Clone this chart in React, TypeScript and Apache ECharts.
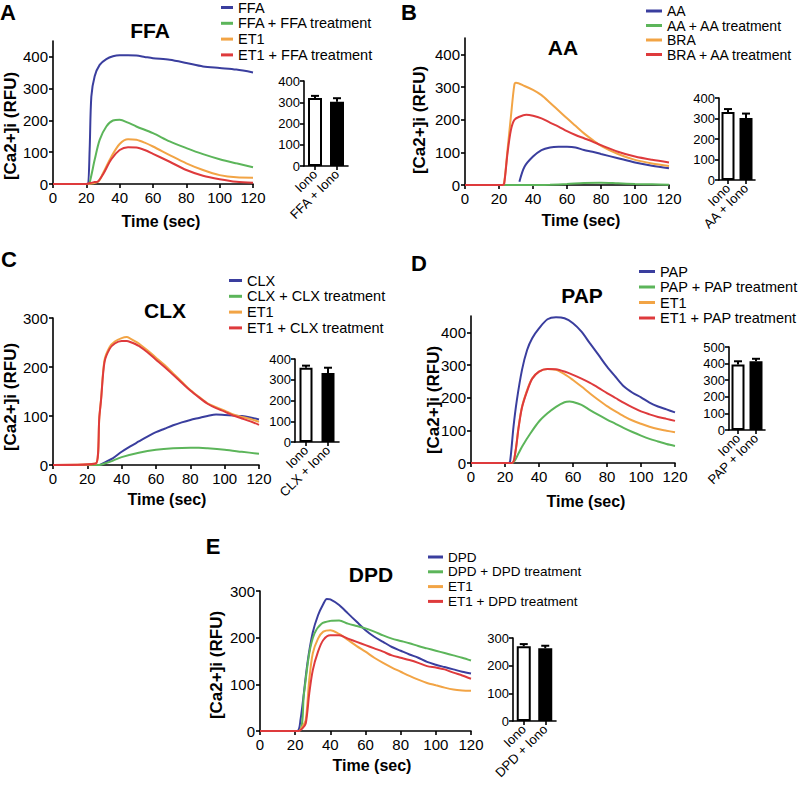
import React, { useEffect, useRef } from "react";
import * as echarts from "echarts";

const BLUE = "#3a3e9e";
const GREEN = "#5cb55a";
const ORANGE = "#f2a445";
const RED = "#de3a3c";
const FONT = '"Liberation Sans", Arial, sans-serif';

// ---------- Panel A (FFA) ----------
const aFfaT = [0, 20, 21, 22, 23, 25, 28, 32, 36, 40, 45, 50, 55, 60, 70, 80, 90, 100, 110, 120];
const aFfaV = [0, 0, 0, 110, 275, 339, 375, 393, 402, 405, 405, 404, 400, 396, 391, 381, 370, 365, 360, 351];
const aFfaTrT = [0, 21, 22, 25, 28, 32, 36, 40, 45, 50, 60, 70, 80, 90, 100, 110, 120];
const aFfaTrV = [0, 0, 5, 76, 139, 181, 200, 202, 193, 181, 160, 134, 113, 94, 78, 65, 53];
const aEt1T = [0, 20, 27, 30, 35, 40, 45, 50, 55, 60, 70, 80, 90, 100, 110, 120];
const aEt1V = [0, 0, 7, 34, 86, 126, 141, 139, 130, 118, 91, 65, 44, 28, 21, 20];
const aEt1TrT = [0, 20, 22, 25, 27, 30, 35, 40, 45, 50, 55, 60, 70, 80, 90, 100, 110, 120];
const aEt1TrV = [0, 0, 3, 6, 8, 30, 78, 107, 116, 115, 107, 95, 70, 44, 26, 15, 7, 4];
const aBarCats = ["Iono", "FFA + Iono"];
const aBarVals = [320, 302];
const aBarErr = [10, 17];

// ---------- Panel B (AA) ----------
const bAaT = [32, 35, 40, 45, 50, 55, 60, 65, 70, 75, 80, 90, 100, 110, 120];
const bAaV = [10, 56, 87, 107, 115, 117, 117, 115, 107, 102, 95, 82, 69, 59, 51];
const bAaTrT = [0, 20, 40, 50, 60, 70, 80, 90, 100, 110, 120];
const bAaTrV = [0, 0, 0, 1, 3, 6, 7, 5, 3, 2, 1];
const bBraT = [0, 22, 23, 25, 27, 29, 30, 35, 40, 45, 50, 55, 60, 65, 70, 75, 80, 90, 100, 110, 120];
const bBraV = [0, 0, 5, 107, 209, 306, 313, 303, 291, 275, 252, 228, 204, 181, 158, 138, 120, 95, 77, 66, 58];
const bBraTrT = [0, 22, 23, 25, 27, 29, 32, 36, 40, 45, 50, 55, 60, 65, 70, 75, 80, 90, 100, 110, 120];
const bBraTrV = [0, 0, 3, 97, 168, 199, 209, 215, 212, 204, 191, 179, 165, 153, 143, 133, 122, 102, 87, 77, 69];
const bBarCats = ["Iono", "AA + Iono"];
const bBarVals = [332, 302];
const bBarErr = [14, 22];

// ---------- Panel C (CLX) ----------
const cClxT = [0, 27, 30, 35, 40, 45, 50, 55, 60, 65, 70, 75, 80, 85, 90, 95, 100, 105, 110, 115, 120];
const cClxV = [0, 0, 5, 14, 27, 38, 48, 58, 67, 74, 81, 87, 92, 96, 100, 103, 102, 101, 100, 97, 93];
const cClxTrT = [0, 27, 30, 35, 40, 50, 60, 70, 80, 85, 90, 100, 110, 120];
const cClxTrV = [0, 0, 3, 9, 16, 25, 31, 34, 35, 35, 34, 31, 27, 23];
const cEt1T = [0, 25, 27, 28, 30, 33, 36, 40, 43, 45, 50, 55, 60, 65, 70, 75, 80, 85, 90, 95, 100, 105, 110, 115, 120];
const cEt1V = [0, 3, 98, 135, 214, 241, 252, 259, 261, 258, 248, 234, 219, 204, 187, 170, 153, 139, 126, 118, 111, 103, 98, 94, 88];
const cEt1TrV = [0, 3, 98, 133, 210, 237, 248, 253, 253, 251, 243, 230, 215, 200, 184, 168, 152, 138, 125, 116, 109, 101, 95, 89, 82];
const cBarCats = ["Iono", "CLX + Iono"];
const cBarVals = [358, 333];
const cBarErr = [10, 25];

// ---------- Panel D (PAP) ----------
const dPapT = [0, 22, 23, 25, 27, 30, 33, 36, 40, 45, 50, 55, 60, 65, 70, 75, 80, 85, 90, 95, 100, 105, 110, 115, 120];
const dPapV = [0, 0, 5, 111, 193, 285, 346, 382, 412, 440, 446, 443, 428, 402, 366, 331, 295, 264, 234, 215, 201, 185, 173, 164, 155];
const dPapTrT = [0, 24, 28, 30, 35, 40, 45, 50, 55, 58, 60, 65, 70, 75, 80, 85, 90, 95, 100, 105, 110, 115, 120];
const dPapTrV = [0, 0, 30, 50, 91, 127, 152, 172, 186, 188, 187, 178, 162, 147, 133, 120, 107, 95, 84, 74, 66, 58, 52];
const dEt1T = [0, 24, 26, 28, 30, 33, 36, 40, 45, 50, 55, 60, 65, 70, 75, 80, 85, 90, 95, 100, 105, 110, 115, 120];
const dEt1V = [0, 0, 30, 111, 172, 223, 259, 280, 288, 285, 272, 254, 234, 213, 193, 174, 158, 143, 130, 120, 111, 104, 99, 94];
const dEt1TrV = [0, 0, 30, 108, 170, 220, 258, 280, 288, 287, 280, 270, 258, 245, 230, 214, 199, 184, 170, 158, 149, 141, 135, 129];
const dBarCats = ["Iono", "PAP + Iono"];
const dBarVals = [394, 414];
const dBarErr = [20, 15];

// ---------- Panel E (DPD) ----------
const eDpdT = [0, 21, 23, 27, 30, 33, 36, 38, 40, 45, 50, 55, 60, 65, 70, 75, 80, 85, 90, 95, 100, 105, 110, 115, 120];
const eDpdV = [0, 0, 23, 146, 211, 248, 272, 283, 282, 270, 252, 234, 216, 202, 191, 180, 172, 164, 157, 148, 142, 137, 132, 127, 123];
const eDpdTrT = [0, 22, 25, 28, 31, 35, 40, 45, 50, 55, 60, 65, 70, 75, 80, 85, 90, 95, 100, 105, 110, 115, 120];
const eDpdTrV = [0, 0, 80, 166, 209, 230, 236, 237, 230, 225, 220, 213, 205, 198, 193, 188, 182, 177, 172, 167, 162, 157, 151];
const eEt1T = [0, 22, 24, 26, 28, 30, 33, 36, 40, 45, 50, 55, 60, 65, 70, 75, 80, 85, 90, 95, 100, 105, 110, 115, 120];
const eEt1V = [0, 0, 9, 23, 109, 166, 198, 213, 216, 208, 195, 182, 170, 157, 146, 136, 127, 118, 110, 103, 98, 93, 89, 87, 86];
const eEt1TrV = [0, 0, 5, 16, 80, 130, 170, 195, 205, 205, 198, 191, 184, 177, 170, 162, 157, 152, 146, 139, 136, 132, 125, 119, 112];
const eBarCats = ["Iono", "DPD + Iono"];
const eBarVals = [270, 263];
const eBarErr = [8, 9];

const lineTicks450 = [0, 100, 200, 300, 400];
const lineTicks300 = [0, 100, 200, 300];

const zip = (t: number[], v: number[]) => t.map((x, i) => [x, v[i]]);

type S = { name: string; color: string; t: number[]; v: number[] };

const panels = [
  {
    letter: "A", letterPos: [8, 12], title: "FFA", titlePos: [150, 30],
    xTitlePos: [161, 221], yTitlePos: [10, 126],
    grid: { left: 53, top: 41, width: 200, height: 143 }, ymax: 450, ticks: lineTicks450,
    series: [
      { name: "FFA", color: BLUE, t: aFfaT, v: aFfaV },
      { name: "FFA + FFA treatment", color: GREEN, t: aFfaTrT, v: aFfaTrV },
      { name: "ET1", color: ORANGE, t: aEt1T, v: aEt1V },
      { name: "ET1 + FFA treatment", color: RED, t: aEt1TrT, v: aEt1TrV },
    ] as S[],
    legend: { left: 221, top: 0, itemWidth: 12, fontSize: 14.5, gap: 0.8 },
    bar: { grid: { left: 304, top: 81, width: 44, height: 85 }, max: 400, cats: aBarCats, vals: aBarVals, errs: aBarErr, bw: 14 },
  },
  {
    letter: "B", letterPos: [409, 12], title: "AA", titlePos: [563, 47],
    xTitlePos: [581, 220], yTitlePos: [419, 120],
    grid: { left: 465, top: 38, width: 204, height: 147 }, ymax: 450, ticks: lineTicks450,
    series: [
      { name: "AA", color: BLUE, t: bAaT, v: bAaV },
      { name: "AA + AA treatment", color: GREEN, t: bAaTrT, v: bAaTrV },
      { name: "BRA", color: ORANGE, t: bBraT, v: bBraV },
      { name: "BRA + AA treatment", color: RED, t: bBraTrT, v: bBraTrV },
    ] as S[],
    legend: { left: 646, top: 4, itemWidth: 16, fontSize: 14, gap: 0.5 },
    bar: { grid: { left: 719, top: 98, width: 36, height: 82 }, max: 400, cats: bBarCats, vals: bBarVals, errs: bBarErr, bw: 13 },
  },
  {
    letter: "C", letterPos: [9, 259], title: "CLX", titlePos: [165, 310],
    xTitlePos: [167, 499], yTitlePos: [10, 397],
    grid: { left: 53, top: 318, width: 206, height: 147 }, ymax: 300, ticks: lineTicks300,
    series: [
      { name: "CLX", color: BLUE, t: cClxT, v: cClxV },
      { name: "CLX + CLX treatment", color: GREEN, t: cClxTrT, v: cClxTrV },
      { name: "ET1", color: ORANGE, t: cEt1T, v: cEt1V },
      { name: "ET1 + CLX treatment", color: RED, t: cEt1T, v: cEt1TrV },
    ] as S[],
    legend: { left: 229, top: 273, itemWidth: 13, fontSize: 14.5, gap: 0.8 },
    bar: { grid: { left: 295, top: 359, width: 44, height: 83 }, max: 400, cats: cBarCats, vals: cBarVals, errs: cBarErr, bw: 13 },
  },
  {
    letter: "D", letterPos: [419, 263], title: "PAP", titlePos: [582, 295],
    xTitlePos: [586, 501], yTitlePos: [433, 400],
    grid: { left: 471, top: 316, width: 204, height: 147 }, ymax: 450, ticks: lineTicks450,
    series: [
      { name: "PAP", color: BLUE, t: dPapT, v: dPapV },
      { name: "PAP + PAP treatment", color: GREEN, t: dPapTrT, v: dPapTrV },
      { name: "ET1", color: ORANGE, t: dEt1T, v: dEt1V },
      { name: "ET1 + PAP treatment", color: RED, t: dEt1T, v: dEt1TrV },
    ] as S[],
    legend: { left: 639, top: 264, itemWidth: 16, fontSize: 14.5, gap: 0.5 },
    bar: { grid: { left: 729, top: 347, width: 36, height: 83 }, max: 500, cats: dBarCats, vals: dBarVals, errs: dBarErr, bw: 13 },
  },
  {
    letter: "E", letterPos: [213, 546], title: "DPD", titlePos: [371, 574],
    xTitlePos: [372, 765], yTitlePos: [216, 665],
    grid: { left: 260, top: 591, width: 211, height: 140 }, ymax: 300, ticks: lineTicks300,
    series: [
      { name: "DPD", color: BLUE, t: eDpdT, v: eDpdV },
      { name: "DPD + DPD treatment", color: GREEN, t: eDpdTrT, v: eDpdTrV },
      { name: "ET1", color: ORANGE, t: eEt1T, v: eEt1V },
      { name: "ET1 + DPD treatment", color: RED, t: eEt1T, v: eEt1TrV },
    ] as S[],
    legend: { left: 428, top: 550, itemWidth: 15, fontSize: 13.5, gap: 0.8 },
    bar: { grid: { left: 513, top: 638, width: 43, height: 83 }, max: 300, cats: eBarCats, vals: eBarVals, errs: eBarErr, bw: 14 },
  },
];

function buildOption() {
  const grid: any[] = [];
  const xAxis: any[] = [];
  const yAxis: any[] = [];
  const series: any[] = [];
  const legend: any[] = [];
  const graphic: any[] = [];
  const axisLine = { show: true, lineStyle: { color: "#000", width: 1.6 } };
  const axisTick = { show: true, length: 4, lineStyle: { color: "#000", width: 1.6 } };

  panels.forEach((p) => {
    const gi = grid.length;
    grid.push({ ...p.grid, containLabel: false });
    xAxis.push({
      type: "value", gridIndex: gi, min: 0, max: 120, interval: 20,
      axisLine, axisTick, splitLine: { show: false },
      axisLabel: { fontSize: 15, color: "#000", margin: 6, fontFamily: FONT },
    });
    yAxis.push({
      type: "value", gridIndex: gi, min: 0, max: p.ymax, interval: 100,
      axisLine, splitLine: { show: false },
      axisTick: { ...axisTick, customValues: p.ticks },
      axisLabel: { fontSize: 15, color: "#000", margin: 5, fontFamily: FONT, customValues: p.ticks },
    });
    p.series.forEach((s, k) => {
      series.push({
        type: "line", name: s.name, xAxisIndex: gi, yAxisIndex: gi,
        data: zip(s.t, s.v), showSymbol: false, symbol: "none",
        color: s.color, lineStyle: { color: s.color, width: 2 },
        smooth: 0.3, z: 2 + k,
      });
    });
    legend.push({
      orient: "vertical", left: p.legend.left, top: p.legend.top,
      itemWidth: p.legend.itemWidth, itemHeight: 3, itemGap: p.legend.gap,
      icon: "rect", selectedMode: false, padding: 0,
      textStyle: { fontSize: p.legend.fontSize, color: "#000", fontFamily: FONT },
      data: p.series.map((s) => s.name),
    });

    // bar chart
    const bi = grid.length;
    grid.push({ ...p.bar.grid, containLabel: false });
    xAxis.push({
      type: "category", gridIndex: bi, data: p.bar.cats,
      axisLine, axisTick: { ...axisTick, alignWithLabel: true },
      axisLabel: { fontSize: 13, color: "#000", rotate: 45, margin: 6, interval: 0, fontFamily: FONT },
    });
    yAxis.push({
      type: "value", gridIndex: bi, min: 0, max: p.bar.max, interval: 100,
      axisLine, axisTick, splitLine: { show: false },
      axisLabel: { fontSize: 13, color: "#000", margin: 4, fontFamily: FONT },
    });
    series.push({
      type: "bar", xAxisIndex: bi, yAxisIndex: bi, barWidth: p.bar.bw,
      data: p.bar.vals.map((v, i) => ({
        value: v,
        itemStyle: i === 0 ? { color: "#fff", borderColor: "#000", borderWidth: 2 } : { color: "#000", borderColor: "#000", borderWidth: 2 },
      })),
      z: 2,
    });
    series.push({
      type: "custom", xAxisIndex: bi, yAxisIndex: bi, z: 3,
      data: p.bar.vals.map((v, i) => [i, v, p.bar.errs[i]]),
      renderItem: (params: any, api: any) => {
        const x = api.value(0);
        const base = api.coord([x, api.value(1)]);
        const top = api.coord([x, api.value(1) + api.value(2)]);
        return {
          type: "group",
          children: [
            { type: "line", shape: { x1: base[0], y1: base[1], x2: top[0], y2: top[1] }, style: { stroke: "#000", lineWidth: 2 } },
            { type: "line", shape: { x1: top[0] - 4, y1: top[1], x2: top[0] + 4, y2: top[1] }, style: { stroke: "#000", lineWidth: 2 } },
          ],
        };
      },
    });

    // texts
    graphic.push({
      type: "text", x: p.letterPos[0], y: p.letterPos[1],
      style: { text: p.letter, fontSize: 22, fontWeight: "bold", fontFamily: FONT, fill: "#000", align: "center", verticalAlign: "middle" },
    });
    graphic.push({
      type: "text", x: p.titlePos[0], y: p.titlePos[1],
      style: { text: p.title, fontSize: 21, fontWeight: "bold", fontFamily: FONT, fill: "#000", align: "center", verticalAlign: "middle" },
    });
    graphic.push({
      type: "text", x: p.xTitlePos[0], y: p.xTitlePos[1],
      style: { text: "Time (sec)", fontSize: 16, fontWeight: "bold", fontFamily: FONT, fill: "#000", align: "center", verticalAlign: "middle" },
    });
    graphic.push({
      type: "text", x: p.yTitlePos[0], y: p.yTitlePos[1], rotation: Math.PI / 2,
      style: { text: "[Ca2+]i (RFU)", fontSize: 17, fontWeight: "bold", fontFamily: FONT, fill: "#000", align: "center", verticalAlign: "middle" },
    });
  });

  return {
    animation: false,
    backgroundColor: "#fff",
    textStyle: { fontFamily: FONT },
    grid, xAxis, yAxis, series, legend,
    graphic: { elements: graphic },
  };
}

export default function App() {
  const ref = useRef<HTMLDivElement>(null);
  useEffect(() => {
    document.body.style.margin = "0";
    if (!ref.current) return;
    const chart = echarts.init(ref.current, null, { renderer: "svg" });
    chart.setOption(buildOption() as any);
    return () => chart.dispose();
  }, []);
  return <div ref={ref} style={{ width: 800, height: 787 }} />;
}
